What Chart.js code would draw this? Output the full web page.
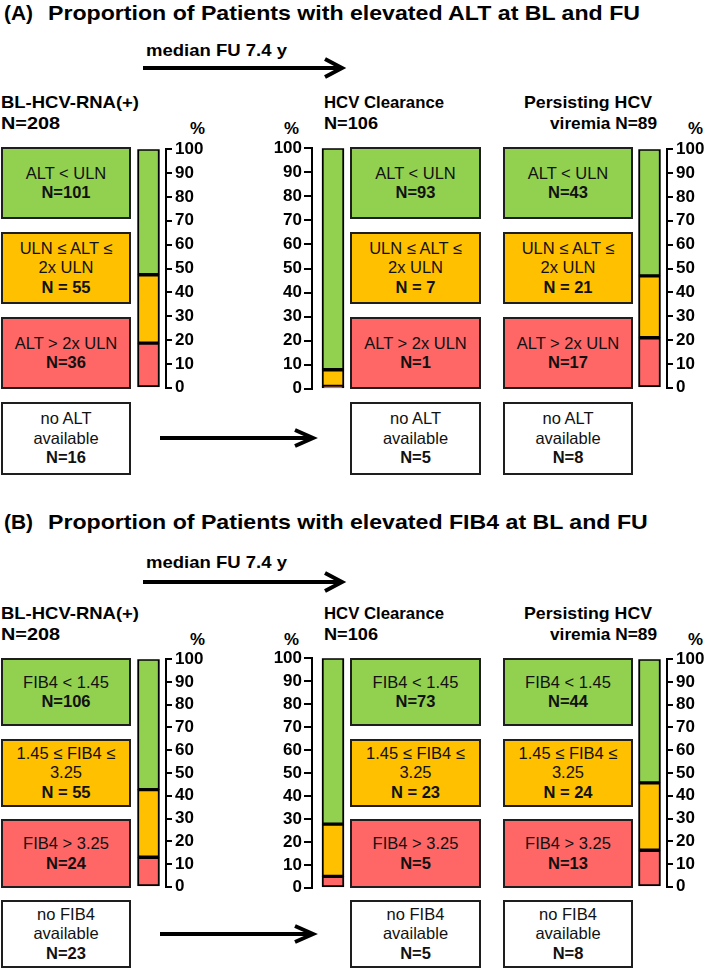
<!DOCTYPE html>
<html><head><meta charset="utf-8">
<script src="https://cdn.jsdelivr.net/npm/chart.js@4.4.0/dist/chart.umd.min.js"></script>
<style>
html,body{margin:0;padding:0;width:709px;height:970px;overflow:hidden;background:#fff;}
body{position:relative;font-family:"Liberation Sans",Arial,Helvetica,sans-serif;color:#000;}
.t{position:absolute;white-space:nowrap;font-weight:bold;line-height:1;transform-origin:0 50%;}
.box{position:absolute;box-sizing:border-box;border:2px solid #1e1e1e;display:flex;flex-direction:column;justify-content:center;align-items:center;text-align:center;font-size:16.5px;line-height:19.5px;white-space:nowrap;color:#111;}
.box .n{font-weight:bold;}
canvas{position:absolute;}
svg{position:absolute;left:0;top:0;pointer-events:none;}
</style></head><body>
<svg id="arrows" width="709" height="970"></svg>
<script>
// ---------- DATA ----------
const groups = ['BL-HCV-RNA(+)', 'HCV Clearance', 'Persisting HCV viremia'];
const groupN = [208, 106, 89];
const altCategories = ['ALT > 2x ULN', 'ULN ≤ ALT ≤ 2x ULN', 'ALT < ULN'];   // bottom -> top
const fibCategories = ['FIB4 > 3.25', '1.45 ≤ FIB4 ≤ 3.25', 'FIB4 < 1.45'];
const altBL      = [36, 55, 101];
const altClear   = [1, 7, 93];
const altPersist = [17, 21, 43];
const altMissing = [16, 5, 8];
const fibBL      = [24, 55, 106];
const fibClear   = [5, 23, 73];
const fibPersist = [13, 24, 44];
const fibMissing = [23, 5, 8];
const yTickStep = 10;
const yMin = 0, yMax = 100;

// ---------- STYLE / LAYOUT ----------
const FONT = '"Liberation Sans", Arial, Helvetica, sans-serif';
const COLORS = ['#FF6666', '#FFC000', '#92D050']; // red, orange, green
const altBoxLines = [['ALT > 2x ULN'], ['ULN ≤ ALT ≤', '2x ULN'], ['ALT < ULN']];
const fibBoxLines = [['FIB4 > 3.25'], ['1.45 ≤ FIB4 ≤', '3.25'], ['FIB4 < 1.45']];
const boxX = [1, 350, 503], boxW = [130, 131, 130];
const chartCols = [
  {left:131, right:166, pos:'right', aw:45, tl:6, pad:3},
  {left:312, right:354, pos:'left',  aw:50, tl:8, pad:2},
  {left:632, right:667, pos:'right', aw:42, tl:6, pad:3}
];
const panels = [
  {letter:'(A)', title:'Proportion of Patients with elevated ALT at BL and FU', cats:altBoxLines,
   missing:['no ALT','available'], data:[altBL, altClear, altPersist], miss:altMissing,
   yTitle:12, yMed:50, yArrow:68, yH1:102, yH2:123, yPct:128,
   boxes:[[147,72],[232,72],[317,72],[402,73]], barTop:148, barBot:389, yBotArrow:438},
  {letter:'(B)', title:'Proportion of Patients with elevated FIB4 at BL and FU', cats:fibBoxLines,
   missing:['no FIB4','available'], data:[fibBL, fibClear, fibPersist], miss:fibMissing,
   yTitle:521, yMed:562, yArrow:582, yH1:613, yH2:634, yPct:639,
   boxes:[[658,68],[739,68],[819,69],[900,68]], barTop:658, barBot:888, yBotArrow:934}
];

function txt(str, left, cy, size, width, scale) {
  const d = document.createElement('div');
  d.className = 't';
  d.textContent = str;
  d.style.left = left + 'px';
  d.style.top = (cy - size / 2) + 'px';
  d.style.fontSize = size + 'px';
  document.body.appendChild(d);
  let s = scale || 1;
  if (width) s = width / d.getBoundingClientRect().width;
  if (s !== 1) d.style.transform = 'scaleX(' + s + ')';
  return s;
}
function box(left, top, w, h, bg, lines, nLine) {
  const d = document.createElement('div');
  d.className = 'box';
  d.style.left = left + 'px'; d.style.top = top + 'px';
  d.style.width = w + 'px'; d.style.height = h + 'px';
  d.style.background = bg;
  lines.forEach(l => { const s = document.createElement('div'); s.textContent = l; d.appendChild(s); });
  const n = document.createElement('div'); n.className = 'n'; n.textContent = nLine; d.appendChild(n);
  document.body.appendChild(d);
}
const svg = document.getElementById('arrows');
function arrow(x1, x2, y, hl, hh) {
  const ns = 'http://www.w3.org/2000/svg';
  const l = document.createElementNS(ns, 'line');
  l.setAttribute('x1', x1); l.setAttribute('x2', x2 - 2); l.setAttribute('y1', y); l.setAttribute('y2', y);
  l.setAttribute('stroke', '#000'); l.setAttribute('stroke-width', 4);
  svg.appendChild(l);
  const p = document.createElementNS(ns, 'polyline');
  p.setAttribute('points', (x2 - hl) + ',' + (y - hh) + ' ' + x2 + ',' + y + ' ' + (x2 - hl) + ',' + (y + hh));
  p.setAttribute('fill', 'none'); p.setAttribute('stroke', '#000'); p.setAttribute('stroke-width', 4);
  p.setAttribute('stroke-linejoin', 'miter');
  svg.appendChild(p);
}

function makeBar(col, top, bottom, counts, labels) {
  const padT = 12, padB = 12;
  const cv = document.createElement('canvas');
  const W = (col.right - col.left) + col.aw;
  const H = (bottom - top) + padT + padB;
  cv.width = W; cv.height = H;
  cv.style.width = W + 'px'; cv.style.height = H + 'px';
  cv.style.left = (col.pos === 'right' ? col.left : col.left - col.aw) + 'px';
  cv.style.top = (top - padT) + 'px';
  document.body.appendChild(cv);
  const total = counts.reduce((a, b) => a + b, 0);
  new Chart(cv, {
    type: 'bar',
    data: {
      labels: [''],
      datasets: counts.map((c, i) => ({
        label: labels[i], data: [c / total * 100],
        backgroundColor: COLORS[i], borderColor: '#000', borderWidth: 2,
        borderSkipped: false, barThickness: 22
      }))
    },
    options: {
      responsive: false, animation: false, maintainAspectRatio: false,
      layout: {padding: {top: padT, bottom: padB, left: 0, right: 0}},
      plugins: {legend: {display: false}, tooltip: {enabled: false}},
      scales: {
        x: {stacked: true, display: false},
        y: {
          stacked: true, position: col.pos, min: yMin, max: yMax,
          ticks: {stepSize: yTickStep, autoSkip: false, color: '#000', padding: col.pad,
                  font: {family: FONT, size: 17, weight: 'bold'}},
          grid: {drawOnChartArea: false, drawTicks: true, tickLength: col.tl, color: '#000', lineWidth: 2},
          border: {display: true, color: '#000', width: 2},
          afterFit: (s) => { s.width = col.aw; }
        }
      }
    }
  });
}

let titleScale = null;
panels.forEach((P, pi) => {
  txt(P.letter, 4, P.yTitle, 21, 29);
  if (titleScale === null) titleScale = txt(P.title, 48, P.yTitle, 21, 592);
  else txt(P.title, 48, P.yTitle, 21, null, titleScale);
  txt('median FU 7.4 y', 146, P.yMed, 17, 141);
  arrow(143, 342, P.yArrow, 17, 9);
  txt('BL-HCV-RNA(+)', 1, P.yH1, 17, 138);
  txt('N=' + groupN[0], 1, P.yH2, 17, 59);
  txt('HCV Clearance', 324, P.yH1, 17, 120);
  txt('N=' + groupN[1], 324, P.yH2, 17, 54);
  txt('Persisting HCV', 524, P.yH1, 17, 128);
  txt('viremia N=' + groupN[2], 550, P.yH2, 17, 107);
  txt('%', 190, P.yPct, 17, 15);
  txt('%', 284, P.yPct, 17, 15);
  txt('%', 688, P.yPct, 17, 15);
  for (let g = 0; g < 3; g++) {
    const counts = P.data[g];
    for (let k = 0; k < 3; k++) {
      const ci = 2 - k;
      const [bt, bh] = P.boxes[k];
      const nTxt = ci === 1 ? 'N = ' + counts[ci] : 'N=' + counts[ci];
      box(boxX[g], bt, boxW[g], bh, COLORS[ci], P.cats[ci], nTxt);
    }
    const [wt, wh] = P.boxes[3];
    box(boxX[g], wt, boxW[g], wh, '#fff', P.missing, 'N=' + P.miss[g]);
    makeBar(chartCols[g], P.barTop, P.barBot, counts, P.cats.map(c => c.join(' ')));
  }
  arrow(160, 313, P.yBotArrow, 18, 8);
});
</script>
</body></html>
